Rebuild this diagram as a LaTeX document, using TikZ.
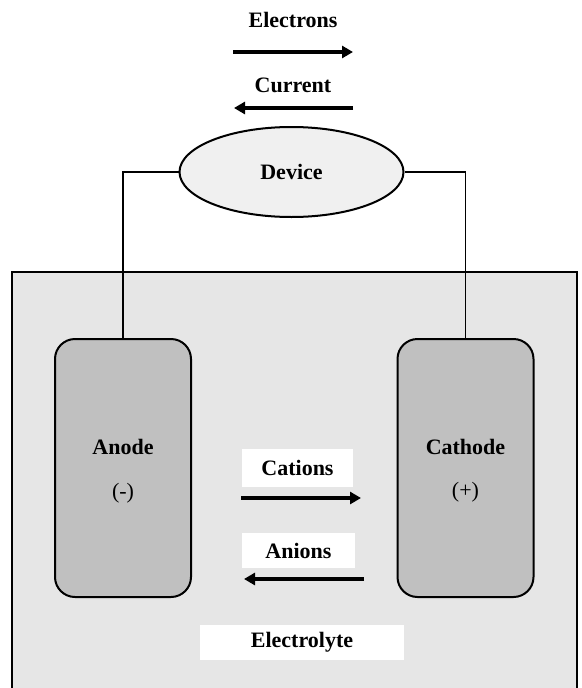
\documentclass[tikz,border=0pt]{standalone}
\usepackage{fontspec}
\setmainfont{Liberation Serif}
\usetikzlibrary{arrows.meta,shapes.geometric}
\begin{document}
\begin{tikzpicture}[x=1pt,y=-1pt,
  lbl/.style={font=\bfseries\fontsize{22}{26}\selectfont, inner sep=0pt},
  sign/.style={font=\fontsize{22}{26}\selectfont, inner sep=0pt},
  wbox/.style={fill=white, inner sep=0pt, font=\bfseries\fontsize{22}{26}\selectfont},
  electrode/.style={draw, line width=2pt, fill=elgray, rounded corners=20pt, minimum width=136pt, minimum height=258pt, inner sep=0pt},
  wire/.style={line width=1.8pt},
  flow/.style={line width=3.6pt, -{Triangle[length=11pt,width=12pt]}}
]
\definecolor{elgray}{RGB}{192,192,192}
\definecolor{bggray}{RGB}{230,230,230}
\definecolor{devgray}{RGB}{240,240,240}
\useasboundingbox (0,0) rectangle (581,688);
% electrolyte container
\fill[bggray] (12,272) rectangle (577,688);
\draw[line width=2pt] (12,688) -- (12,272) -- (577,272) -- (577,688);
% electrodes
\node[electrode] (anode) at (123,468) {};
\node[electrode] (cathode) at (465.5,468) {};
\node[lbl] (anodetxt) at (123,447) {Anode};
\node[sign] (anodesign) at (123,493) {(-)};
\node[lbl] (cathodetxt) at (465.5,447) {Cathode};
\node[sign] (cathodesign) at (465.5,492) {(+)};
% device
\node[draw, line width=2pt, fill=devgray, ellipse, minimum width=224pt, minimum height=90pt, inner sep=0pt, lbl] (device) at (291.5,172) {Device};
\draw[wire] (anode.north) |- (device.west);
\draw[wire] (cathode.north) |- (device.east);
% electrons / current
\node[lbl] (electrons) at (293,20) {Electrons};
\node[lbl] (current) at (293,85) {Current};
\coordinate (e1) at (233,52); \coordinate (e2) at (353,52);
\coordinate (c1) at (353,108); \coordinate (c2) at (234,108);
\draw[flow] (e1) -- (e2);
\draw[flow] (c1) -- (c2);
% ions
\node[wbox, minimum width=111pt, minimum height=38pt] (cations) at (297.5,468) {Cations};
\node[wbox, minimum width=113pt, minimum height=35pt] (anions) at (298.5,550.5) {Anions};
\coordinate (k1) at (241,498); \coordinate (k2) at (361,498);
\coordinate (a1) at (364,579); \coordinate (a2) at (244,579);
\draw[flow] (k1) -- (k2);
\draw[flow] (a1) -- (a2);
% electrolyte label
\node[wbox, minimum width=204pt, minimum height=35pt] (electrolyte) at (302,642.5) {Electrolyte};
\end{tikzpicture}
\end{document}
